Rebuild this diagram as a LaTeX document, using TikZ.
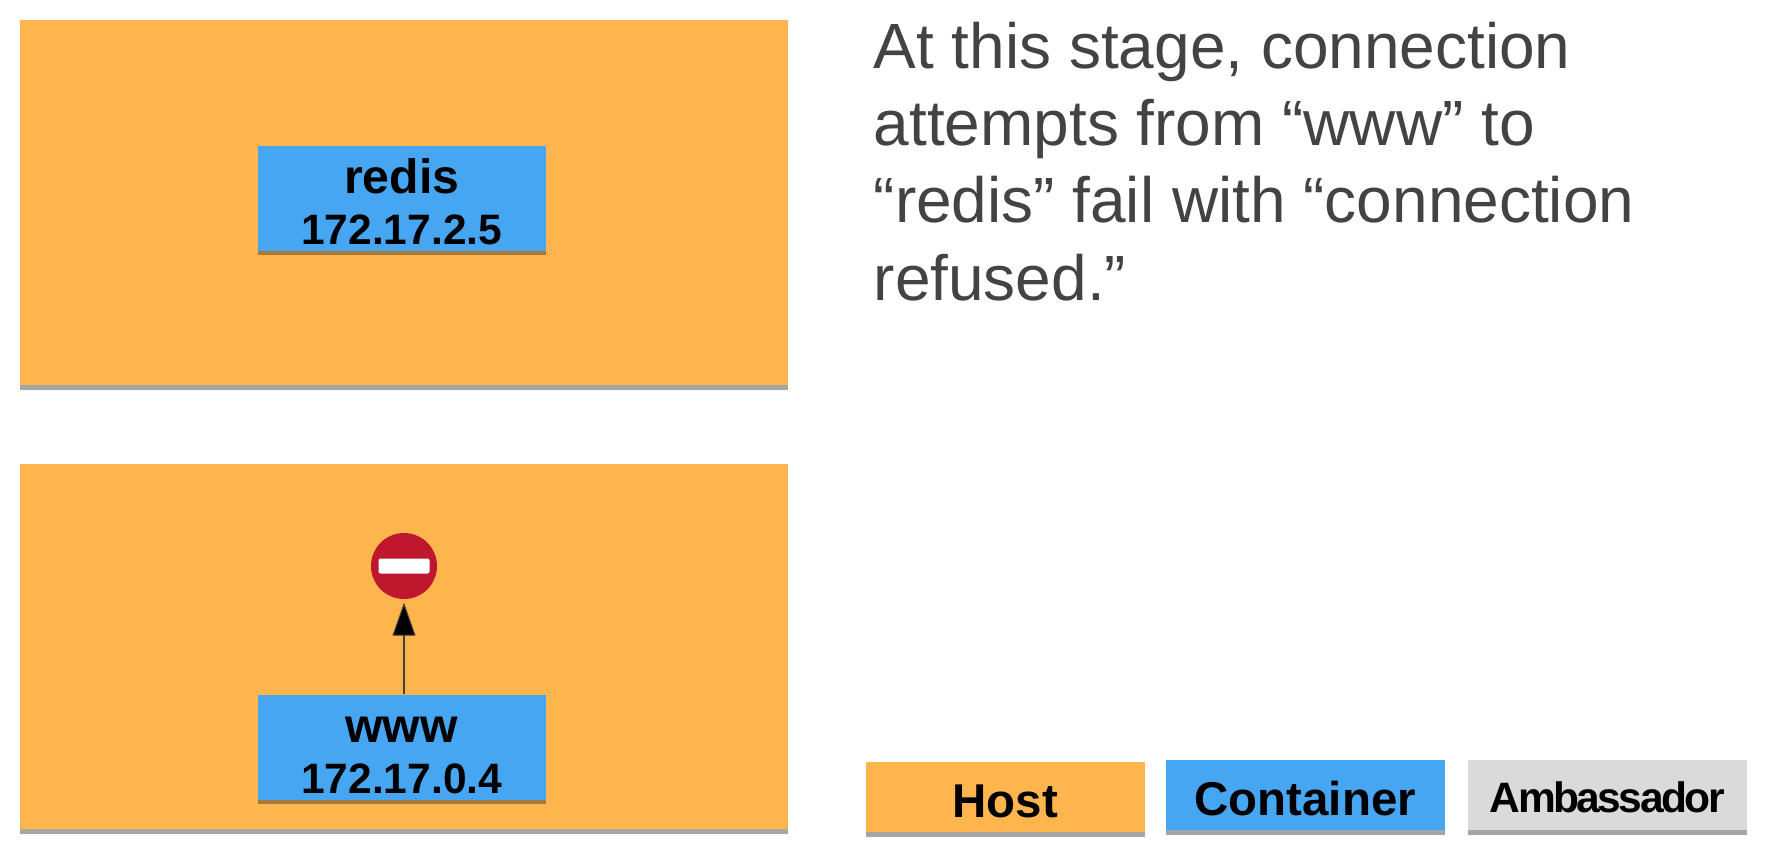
\documentclass[tikz,border=0pt]{standalone}
\usepackage{fontspec}
\setmainfont{Liberation Sans}
\usetikzlibrary{arrows.meta, positioning, shadows}
\definecolor{hostorange}{RGB}{255, 181, 77}
\definecolor{contblue}{RGB}{71, 166, 241}
\definecolor{ambgray}{RGB}{218, 218, 218}
\definecolor{edgegray}{RGB}{166, 166, 166}
\definecolor{edgebrown}{RGB}{166, 122, 58}
\definecolor{signred}{RGB}{190, 23, 46}
\definecolor{notegray}{RGB}{67, 67, 67}
\newcommand{\contname}[1]{{\fontsize{13.7}{14.7}\selectfont\rule{0pt}{12pt}#1}}

\begin{document}
\begin{tikzpicture}[x=1cm, y=1cm,
    flatbox/.style={anchor=north west, inner sep=0pt, font=\bfseries},
    hostbox/.style={flatbox, fill=hostorange, minimum width=7.68cm, minimum height=3.65cm,
      drop shadow={shadow xshift=0cm, shadow yshift=-0.05cm, fill=edgegray, opacity=1}},
    contbox/.style={flatbox, fill=contblue, minimum width=2.88cm, minimum height=1.05cm, align=center,
      font=\bfseries\fontsize{12.1}{14.7}\selectfont,
      drop shadow={shadow xshift=0cm, shadow yshift=-0.045cm, fill=edgebrown, opacity=1}},
    keybox/.style={flatbox, minimum width=2.79cm, minimum height=0.7cm,
      font=\bfseries\fontsize{13.5}{16}\selectfont,
      drop shadow={shadow xshift=0cm, shadow yshift=-0.05cm, fill=edgegray, opacity=1}}]
  \useasboundingbox (0,0) rectangle (17.75,8.59);
  % hosts
  \node[hostbox] (hostredis) at (0.19,8.40) {};
  \node[hostbox] (hostwww) at (0.19,3.96) {};
  % containers
  \node[contbox] (redis) at (2.57,7.14) {\contname{redis}\\172.17.2.5};
  \node[contbox] (www) at (2.57,1.65) {\contname{www}\\172.17.0.4};
  % no entry sign
  \node[circle, fill=signred, minimum size=0.66cm, inner sep=0pt] (sign) at (4.04,2.93) {};
  \node[fill=white, rounded corners=0.02cm, minimum width=0.51cm, minimum height=0.15cm, inner sep=0pt] (signbar) at (sign.center) {};
  \draw[-{Triangle[length=0.33cm, width=0.23cm, fill=black]}, line width=0.3pt, draw=black!75, shorten >=0.03cm] (www.north -| sign.south) -- (sign.south);
  % note
  \node[anchor=north west, inner sep=0pt, align=left, text=notegray,
        font=\fontsize{18.2}{22}\selectfont] (note) at (8.73,8.38)
    {At this stage, connection\\attempts from “www” to\\“redis” fail with “connection\\refused.”};
  % legend
  \foreach \name/\xpos/\ypos/\boxcol/\desc in {
      keyhost/8.65/0.98/hostorange/{\rule{0pt}{12pt}Host},
      keycont/11.65/1.00/contblue/{\rule{0pt}{12pt}Container},
      keyamb/14.67/1.00/ambgray/{\addfontfeature{LetterSpace=-6}\fontsize{12.1}{14}\selectfont\rule{0pt}{10.3pt}Ambassador}}{
    \node[keybox, fill=\boxcol] (\name) at (\xpos,\ypos) {\desc};
  }
\end{tikzpicture}
\end{document}
